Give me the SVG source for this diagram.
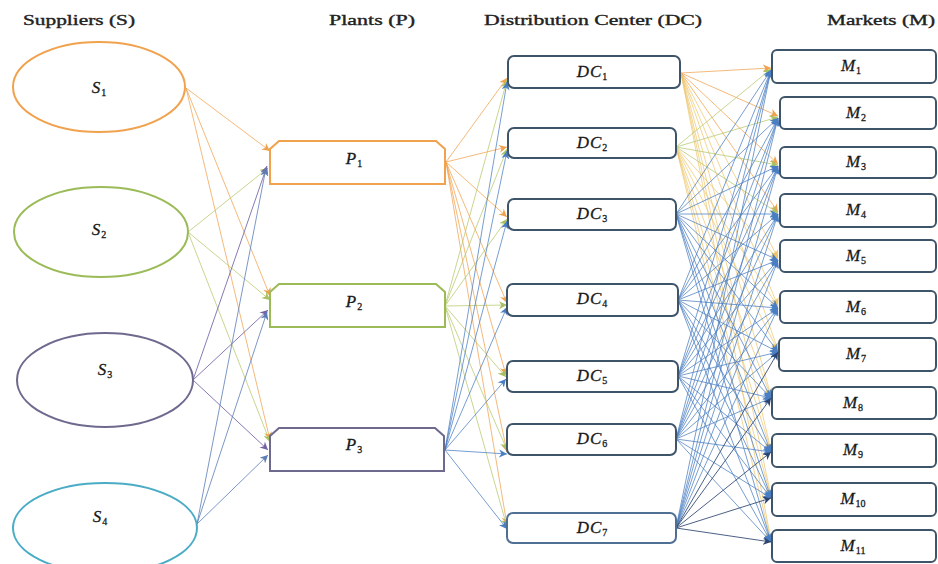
<svg xmlns="http://www.w3.org/2000/svg" width="938" height="564" viewBox="0 0 938 564">
<style>
.hdr{font-family:"Liberation Serif","Times New Roman",serif;font-size:14px;fill:#222;stroke:#222;stroke-width:0.35;}
.lbl{font-family:"Liberation Serif","Times New Roman",serif;font-size:17px;font-style:italic;fill:#1a1a1a;stroke:#1a1a1a;stroke-width:0.3;letter-spacing:1px;}
.sub{font-size:10px;font-style:normal;letter-spacing:0;}
.dc,.mk{fill:#fff;stroke:#3E5468;stroke-width:2;}
.e{fill:none;stroke-width:1;}
.or{stroke:#F0A24E;stroke-opacity:.75;marker-end:url(#a-or);}
.yl{stroke:#EDC56A;stroke-opacity:.7;marker-end:url(#a-yl);}
.gr{stroke:#B6C86A;stroke-opacity:.75;marker-end:url(#a-gr);}
.pu{stroke:#7363A6;stroke-opacity:.85;marker-end:url(#a-pu);}
.sb{stroke:#5B7DB8;stroke-opacity:.8;marker-end:url(#a-sb);}
.bl{stroke:#4A7EC2;stroke-opacity:.75;marker-end:url(#a-bl);}
.db{stroke:#2C4470;stroke-opacity:.85;marker-end:url(#a-db);}
</style>
<defs>
<marker id="a-or" viewBox="0 0 10 10" refX="10" refY="5" markerWidth="8" markerHeight="8" orient="auto" markerUnits="userSpaceOnUse"><path d="M0,0 L10,5 L0,10 L3,5 z" fill="#F0A24E"/></marker>
<marker id="a-yl" viewBox="0 0 10 10" refX="10" refY="5" markerWidth="8" markerHeight="8" orient="auto" markerUnits="userSpaceOnUse"><path d="M0,0 L10,5 L0,10 L3,5 z" fill="#EDC56A"/></marker>
<marker id="a-gr" viewBox="0 0 10 10" refX="10" refY="5" markerWidth="8" markerHeight="8" orient="auto" markerUnits="userSpaceOnUse"><path d="M0,0 L10,5 L0,10 L3,5 z" fill="#A8C060"/></marker>
<marker id="a-pu" viewBox="0 0 10 10" refX="10" refY="5" markerWidth="8" markerHeight="8" orient="auto" markerUnits="userSpaceOnUse"><path d="M0,0 L10,5 L0,10 L3,5 z" fill="#7363A6"/></marker>
<marker id="a-sb" viewBox="0 0 10 10" refX="10" refY="5" markerWidth="8" markerHeight="8" orient="auto" markerUnits="userSpaceOnUse"><path d="M0,0 L10,5 L0,10 L3,5 z" fill="#5B7DB8"/></marker>
<marker id="a-bl" viewBox="0 0 10 10" refX="10" refY="5" markerWidth="8" markerHeight="8" orient="auto" markerUnits="userSpaceOnUse"><path d="M0,0 L10,5 L0,10 L3,5 z" fill="#4A7EC2"/></marker>
<marker id="a-db" viewBox="0 0 10 10" refX="10" refY="5" markerWidth="8" markerHeight="8" orient="auto" markerUnits="userSpaceOnUse"><path d="M0,0 L10,5 L0,10 L3,5 z" fill="#2C4470"/></marker>
</defs>
<rect width="938" height="564" fill="#fff"/>
<g id="headers">
<text class="hdr" x="23" y="25" textLength="112" lengthAdjust="spacingAndGlyphs">Suppliers (S)</text>
<text class="hdr" x="329" y="25" textLength="86" lengthAdjust="spacingAndGlyphs">Plants (P)</text>
<text class="hdr" x="484" y="25" textLength="218" lengthAdjust="spacingAndGlyphs">Distribution Center (DC)</text>
<text class="hdr" x="827" y="25" textLength="108" lengthAdjust="spacingAndGlyphs">Markets (M)</text>
</g>
<g id="connectors">
<line class="e or" x1="186" y1="88" x2="270" y2="151"/>
<line class="e or" x1="186" y1="88" x2="270" y2="296"/>
<line class="e or" x1="186" y1="88" x2="270" y2="440"/>
<line class="e gr" x1="188" y1="232" x2="268" y2="168"/>
<line class="e gr" x1="188" y1="232" x2="270" y2="300"/>
<line class="e gr" x1="188" y1="232" x2="270" y2="442"/>
<line class="e pu" x1="193" y1="380" x2="267" y2="166"/>
<line class="e pu" x1="193" y1="380" x2="268" y2="310"/>
<line class="e pu" x1="193" y1="380" x2="268" y2="450"/>
<line class="e sb" x1="197" y1="524" x2="266" y2="168"/>
<line class="e sb" x1="197" y1="524" x2="267" y2="312"/>
<line class="e sb" x1="197" y1="524" x2="268" y2="455"/>
<line class="e or" x1="446" y1="162" x2="507" y2="78"/>
<line class="e or" x1="446" y1="162" x2="507" y2="147"/>
<line class="e or" x1="446" y1="162" x2="507" y2="217"/>
<line class="e or" x1="446" y1="162" x2="507" y2="303"/>
<line class="e or" x1="446" y1="162" x2="506" y2="375"/>
<line class="e or" x1="446" y1="162" x2="507" y2="452"/>
<line class="e or" x1="446" y1="162" x2="507" y2="525"/>
<line class="e gr" x1="445" y1="306" x2="507" y2="80"/>
<line class="e gr" x1="445" y1="306" x2="507" y2="149"/>
<line class="e gr" x1="445" y1="306" x2="507" y2="219"/>
<line class="e gr" x1="445" y1="306" x2="507" y2="305"/>
<line class="e gr" x1="445" y1="306" x2="506" y2="377"/>
<line class="e gr" x1="445" y1="306" x2="507" y2="450"/>
<line class="e gr" x1="445" y1="306" x2="507" y2="527"/>
<line class="e bl" x1="445" y1="450" x2="507" y2="82"/>
<line class="e bl" x1="445" y1="450" x2="507" y2="151"/>
<line class="e bl" x1="445" y1="450" x2="507" y2="221"/>
<line class="e bl" x1="445" y1="450" x2="507" y2="307"/>
<line class="e bl" x1="445" y1="450" x2="506" y2="379"/>
<line class="e bl" x1="445" y1="450" x2="507" y2="454"/>
<line class="e bl" x1="445" y1="450" x2="507" y2="529"/>
<line class="e or" x1="681" y1="73" x2="771" y2="68"/>
<line class="e or" x1="681" y1="73" x2="778" y2="116"/>
<line class="e or" x1="681" y1="73" x2="778" y2="164"/>
<line class="e or" x1="681" y1="73" x2="778" y2="212"/>
<line class="e yl" x1="681" y1="73" x2="778" y2="258"/>
<line class="e yl" x1="681" y1="73" x2="778" y2="306"/>
<line class="e yl" x1="681" y1="73" x2="778" y2="350"/>
<line class="e yl" x1="681" y1="73" x2="771" y2="396"/>
<line class="e yl" x1="681" y1="73" x2="771" y2="450"/>
<line class="e yl" x1="681" y1="73" x2="771" y2="496"/>
<line class="e yl" x1="681" y1="73" x2="771" y2="540"/>
<line class="e gr" x1="676" y1="147" x2="771" y2="69"/>
<line class="e gr" x1="676" y1="147" x2="778" y2="117"/>
<line class="e gr" x1="676" y1="147" x2="778" y2="165"/>
<line class="e gr" x1="676" y1="147" x2="778" y2="213"/>
<line class="e yl" x1="676" y1="147" x2="778" y2="259"/>
<line class="e yl" x1="676" y1="147" x2="778" y2="307"/>
<line class="e yl" x1="676" y1="147" x2="778" y2="351"/>
<line class="e yl" x1="676" y1="147" x2="771" y2="397"/>
<line class="e yl" x1="676" y1="147" x2="771" y2="451"/>
<line class="e yl" x1="676" y1="147" x2="771" y2="497"/>
<line class="e yl" x1="676" y1="147" x2="771" y2="541"/>
<line class="e bl" x1="676" y1="214" x2="771" y2="70"/>
<line class="e bl" x1="676" y1="214" x2="778" y2="118"/>
<line class="e bl" x1="676" y1="214" x2="778" y2="166"/>
<line class="e bl" x1="676" y1="214" x2="778" y2="214"/>
<line class="e bl" x1="676" y1="214" x2="778" y2="260"/>
<line class="e bl" x1="676" y1="214" x2="778" y2="308"/>
<line class="e bl" x1="676" y1="214" x2="778" y2="352"/>
<line class="e bl" x1="676" y1="214" x2="771" y2="398"/>
<line class="e bl" x1="676" y1="214" x2="771" y2="452"/>
<line class="e bl" x1="676" y1="214" x2="771" y2="498"/>
<line class="e bl" x1="676" y1="214" x2="771" y2="542"/>
<line class="e bl" x1="678" y1="300" x2="771" y2="70"/>
<line class="e bl" x1="678" y1="300" x2="778" y2="118"/>
<line class="e bl" x1="678" y1="300" x2="778" y2="166"/>
<line class="e bl" x1="678" y1="300" x2="778" y2="214"/>
<line class="e bl" x1="678" y1="300" x2="778" y2="260"/>
<line class="e bl" x1="678" y1="300" x2="778" y2="308"/>
<line class="e bl" x1="678" y1="300" x2="778" y2="352"/>
<line class="e bl" x1="678" y1="300" x2="771" y2="398"/>
<line class="e bl" x1="678" y1="300" x2="771" y2="452"/>
<line class="e bl" x1="678" y1="300" x2="771" y2="498"/>
<line class="e bl" x1="678" y1="300" x2="771" y2="542"/>
<line class="e bl" x1="678" y1="376" x2="771" y2="70"/>
<line class="e bl" x1="678" y1="376" x2="778" y2="118"/>
<line class="e bl" x1="678" y1="376" x2="778" y2="166"/>
<line class="e bl" x1="678" y1="376" x2="778" y2="214"/>
<line class="e bl" x1="678" y1="376" x2="778" y2="260"/>
<line class="e bl" x1="678" y1="376" x2="778" y2="308"/>
<line class="e bl" x1="678" y1="376" x2="778" y2="352"/>
<line class="e bl" x1="678" y1="376" x2="771" y2="398"/>
<line class="e bl" x1="678" y1="376" x2="771" y2="452"/>
<line class="e bl" x1="678" y1="376" x2="771" y2="498"/>
<line class="e bl" x1="678" y1="376" x2="771" y2="542"/>
<line class="e bl" x1="676" y1="439" x2="771" y2="70"/>
<line class="e bl" x1="676" y1="439" x2="778" y2="118"/>
<line class="e bl" x1="676" y1="439" x2="778" y2="166"/>
<line class="e bl" x1="676" y1="439" x2="778" y2="214"/>
<line class="e bl" x1="676" y1="439" x2="778" y2="260"/>
<line class="e bl" x1="676" y1="439" x2="778" y2="308"/>
<line class="e bl" x1="676" y1="439" x2="778" y2="352"/>
<line class="e bl" x1="676" y1="439" x2="771" y2="398"/>
<line class="e bl" x1="676" y1="439" x2="771" y2="452"/>
<line class="e bl" x1="676" y1="439" x2="771" y2="498"/>
<line class="e bl" x1="676" y1="439" x2="771" y2="542"/>
<line class="e bl" x1="676" y1="528" x2="771" y2="70"/>
<line class="e bl" x1="676" y1="528" x2="778" y2="118"/>
<line class="e bl" x1="676" y1="528" x2="778" y2="166"/>
<line class="e bl" x1="676" y1="528" x2="778" y2="214"/>
<line class="e bl" x1="676" y1="528" x2="778" y2="260"/>
<line class="e bl" x1="676" y1="528" x2="778" y2="308"/>
<line class="e db" x1="676" y1="528" x2="778" y2="352"/>
<line class="e db" x1="676" y1="528" x2="771" y2="398"/>
<line class="e db" x1="676" y1="528" x2="771" y2="452"/>
<line class="e db" x1="676" y1="528" x2="771" y2="498"/>
<line class="e db" x1="676" y1="528" x2="771" y2="542"/>
</g>
<g id="S1"><ellipse cx="99" cy="87" rx="86" ry="45" fill="#fff" stroke="#F0A24E" stroke-width="2"/><text class="lbl" x="99" y="93" text-anchor="middle">S<tspan class="sub" dy="3">1</tspan></text></g>
<g id="S2"><ellipse cx="101" cy="232" rx="87" ry="45" fill="#fff" stroke="#9BBB59" stroke-width="2"/><text class="lbl" x="99" y="235" text-anchor="middle">S<tspan class="sub" dy="3">2</tspan></text></g>
<g id="S3"><ellipse cx="105" cy="380" rx="88" ry="47" fill="#fff" stroke="#6E6A8E" stroke-width="2"/><text class="lbl" x="105" y="375" text-anchor="middle">S<tspan class="sub" dy="3">3</tspan></text></g>
<g id="S4"><ellipse cx="105" cy="528" rx="92" ry="45" fill="#fff" stroke="#4BACC6" stroke-width="2"/><text class="lbl" x="100" y="522" text-anchor="middle">S<tspan class="sub" dy="3">4</tspan></text></g>
<g id="P1"><path d="M270,184 L270,149 L279,141 L436,141 L445,149 L445,184 Z" fill="#fff" stroke="#F0A24E" stroke-width="2"/><text class="lbl" x="354" y="164" text-anchor="middle">P<tspan class="sub" dy="3">1</tspan></text></g>
<g id="P2"><path d="M270,327 L270,292 L279,284 L436,284 L445,292 L445,327 Z" fill="#fff" stroke="#9BBB59" stroke-width="2"/><text class="lbl" x="354" y="307" text-anchor="middle">P<tspan class="sub" dy="3">2</tspan></text></g>
<g id="P3"><path d="M270,471 L270,436 L279,428 L435,428 L444,436 L444,471 Z" fill="#fff" stroke="#6E6A8E" stroke-width="2"/><text class="lbl" x="354" y="450" text-anchor="middle">P<tspan class="sub" dy="3">3</tspan></text></g>
<g id="DC1"><rect class="dc" x="508" y="56" width="172" height="32" rx="6"/><text class="lbl" x="592" y="77" text-anchor="middle">DC<tspan class="sub" dy="3">1</tspan></text></g>
<g id="DC2"><rect class="dc" x="508" y="128" width="168" height="30" rx="6"/><text class="lbl" x="592" y="148" text-anchor="middle">DC<tspan class="sub" dy="3">2</tspan></text></g>
<g id="DC3"><rect class="dc" x="508" y="199" width="168" height="31" rx="6"/><text class="lbl" x="592" y="219" text-anchor="middle">DC<tspan class="sub" dy="3">3</tspan></text></g>
<g id="DC4"><rect class="dc" x="507" y="284" width="171" height="32" rx="6"/><text class="lbl" x="592" y="304" text-anchor="middle">DC<tspan class="sub" dy="3">4</tspan></text></g>
<g id="DC5"><rect class="dc" x="507" y="361" width="171" height="31" rx="6"/><text class="lbl" x="592" y="381" text-anchor="middle">DC<tspan class="sub" dy="3">5</tspan></text></g>
<g id="DC6"><rect class="dc" x="507" y="424" width="169" height="31" rx="6"/><text class="lbl" x="592" y="444" text-anchor="middle">DC<tspan class="sub" dy="3">6</tspan></text></g>
<g id="DC7"><rect class="dc" x="507" y="513" width="169" height="30" rx="6" style="stroke:#4F6F93"/><text class="lbl" x="592" y="533" text-anchor="middle">DC<tspan class="sub" dy="3">7</tspan></text></g>
<g id="M1"><rect class="mk" x="772" y="50" width="164" height="33" rx="5"/><text class="lbl" x="851" y="71" text-anchor="middle">M<tspan class="sub" dy="3">1</tspan></text></g>
<g id="M2"><rect class="mk" x="780" y="97" width="156" height="32" rx="5"/><text class="lbl" x="856" y="118" text-anchor="middle">M<tspan class="sub" dy="3">2</tspan></text></g>
<g id="M3"><rect class="mk" x="780" y="147" width="156" height="31" rx="5"/><text class="lbl" x="856" y="167" text-anchor="middle">M<tspan class="sub" dy="3">3</tspan></text></g>
<g id="M4"><rect class="mk" x="780" y="194" width="156" height="33" rx="5"/><text class="lbl" x="856" y="215" text-anchor="middle">M<tspan class="sub" dy="3">4</tspan></text></g>
<g id="M5"><rect class="mk" x="780" y="240" width="156" height="32" rx="5"/><text class="lbl" x="856" y="261" text-anchor="middle">M<tspan class="sub" dy="3">5</tspan></text></g>
<g id="M6"><rect class="mk" x="780" y="291" width="156" height="32" rx="5"/><text class="lbl" x="856" y="312" text-anchor="middle">M<tspan class="sub" dy="3">6</tspan></text></g>
<g id="M7"><rect class="mk" x="779" y="338" width="157" height="33" rx="5"/><text class="lbl" x="856" y="359" text-anchor="middle">M<tspan class="sub" dy="3">7</tspan></text></g>
<g id="M8"><rect class="mk" x="772" y="387" width="164" height="32" rx="5"/><text class="lbl" x="853" y="408" text-anchor="middle">M<tspan class="sub" dy="3">8</tspan></text></g>
<g id="M9"><rect class="mk" x="772" y="434" width="164" height="33" rx="5"/><text class="lbl" x="853" y="455" text-anchor="middle">M<tspan class="sub" dy="3">9</tspan></text></g>
<g id="M10"><rect class="mk" x="772" y="483" width="164" height="33" rx="5"/><text class="lbl" x="853" y="504" text-anchor="middle">M<tspan class="sub" dy="3">10</tspan></text></g>
<g id="M11"><rect class="mk" x="772" y="530" width="164" height="32" rx="5"/><text class="lbl" x="853" y="551" text-anchor="middle">M<tspan class="sub" dy="3">11</tspan></text></g>
</svg>
